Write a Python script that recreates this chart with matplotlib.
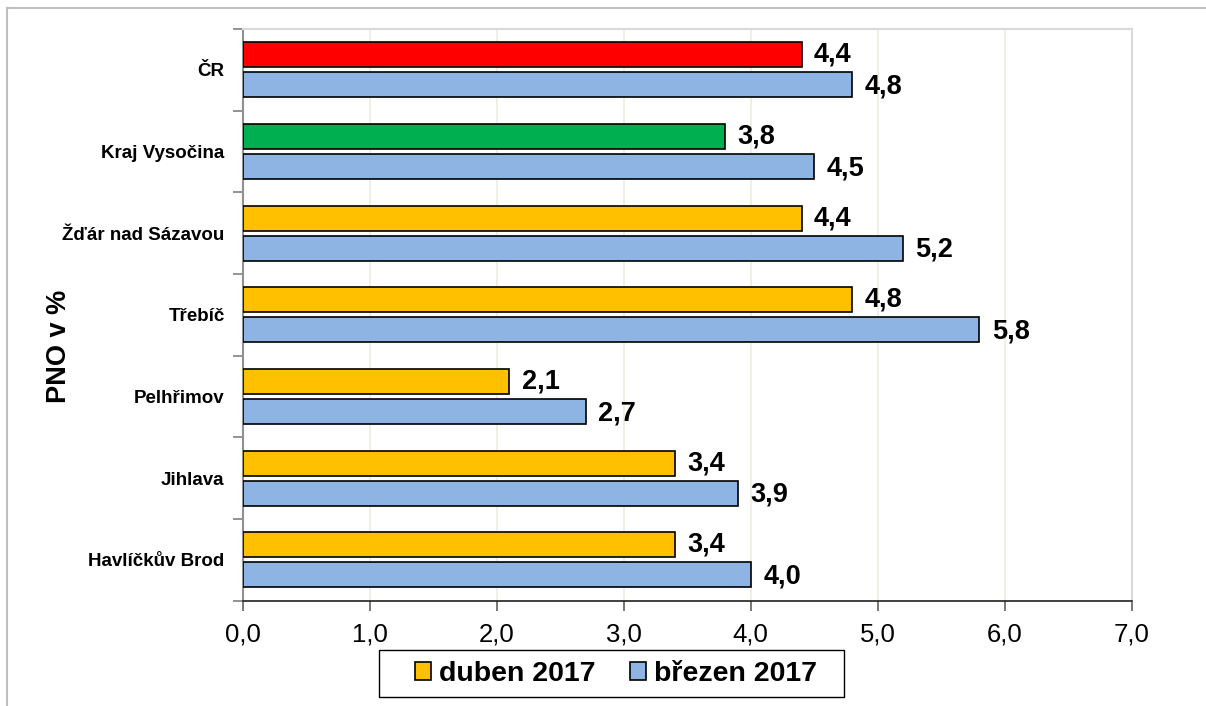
import matplotlib
matplotlib.use("Agg")
import matplotlib.pyplot as plt
from matplotlib.patches import Patch, Rectangle
from matplotlib.lines import Line2D

plt.rcParams['font.family'] = ['Liberation Sans', 'DejaVu Sans']

categories = ["ČR", "Kraj Vysočina", "Žďár nad Sázavou", "Třebíč",
              "Pelhřimov", "Jihlava", "Havlíčkův Brod"]
duben_2017 = [4.4, 3.8, 4.4, 4.8, 2.1, 3.4, 3.4]
brezen_2017 = [4.8, 4.5, 5.2, 5.8, 2.7, 3.9, 4.0]
series_names = ["duben 2017", "březen 2017"]
x_ticks = [0, 1, 2, 3, 4, 5, 6, 7]

col_orange = "#FFC000"
col_blue = "#8EB4E3"
col_red = "#FF0000"
col_green = "#00B050"
duben_colors = [col_red, col_green] + [col_orange] * (len(categories) - 2)


def fmt(v):
    return f"{v:.1f}".replace(".", ",")


W, H = 1206, 706
fig = plt.figure(figsize=(W / 100, H / 100), dpi=100)
ax = fig.add_axes([242.7 / W, 1 - 600.7 / H, (1131.7 - 242.7) / W, (600.7 - 29) / H])

ypos = list(range(len(categories)))
h = 0.306
off = 0.183
ax.barh([y - off for y in ypos], duben_2017, height=h, color=duben_colors,
        edgecolor="black", linewidth=1.2, zorder=3)
ax.barh([y + off for y in ypos], brezen_2017, height=h, color=col_blue,
        edgecolor="black", linewidth=1.2, zorder=3)

for y, v in zip(ypos, duben_2017):
    ax.annotate(fmt(v), (v, y - off), xytext=(9, 0), textcoords="offset points",
                va="center", ha="left", fontsize=19.5, fontweight="bold", zorder=4)
for y, v in zip(ypos, brezen_2017):
    ax.annotate(fmt(v), (v, y + off + 0.02), xytext=(9, 0), textcoords="offset points",
                va="center", ha="left", fontsize=19.5, fontweight="bold", zorder=4)

ax.set_xlim(0, 7)
ax.set_ylim(len(categories) - 0.5, -0.5)
ax.set_xticks(x_ticks)
ax.set_xticklabels([fmt(t) for t in x_ticks], fontsize=18.5)
ax.set_yticks(ypos)
ax.set_yticklabels(categories, fontsize=13.5, fontweight="bold")
ax.set_yticks([y - 0.5 for y in ypos] + [len(categories) - 0.5], minor=True)
ax.tick_params(axis="y", which="major", length=0, pad=13)
ax.tick_params(axis="y", which="minor", length=7, width=1.2, color="#808080", direction="out")
ax.tick_params(axis="x", which="major", length=7, width=1.2, color="#606060", pad=9)
ax.grid(axis="x", color="#ecece0", linewidth=1.2, zorder=0)
ax.set_axisbelow(True)

for s in ["top", "right"]:
    ax.spines[s].set_color("#d9d9d9")
    ax.spines[s].set_linewidth(1.5)
ax.spines["left"].set_color("#909090")
ax.spines["left"].set_linewidth(1.5)
ax.spines["bottom"].set_color("#202020")
ax.spines["bottom"].set_linewidth(1.2)

fig.text(59 / W, 1 - 346 / H, "PNO v %", rotation=90, fontsize=19.5,
         fontweight="bold", ha="center", va="center")

# legend box
fig.add_artist(Rectangle((379 / W, 1 - 697 / H), (844 - 379) / W, (697 - 650) / H,
                         transform=fig.transFigure, facecolor="white", edgecolor="black",
                         linewidth=1.0, zorder=5))
handles = [Patch(facecolor=col_orange, edgecolor="black", linewidth=1.2),
           Patch(facecolor=col_blue, edgecolor="black", linewidth=1.2)]
leg = fig.legend(handles, series_names, loc="center", bbox_to_anchor=(616 / W, 1 - 674 / H),
                 ncol=2, frameon=False,
                 prop={"weight": "bold", "size": 20.5}, handlelength=0.56, handleheight=0.56,
                 handletextpad=0.28, columnspacing=1.2, borderpad=0.2)
leg.set_zorder(6)

# outer chart border
fig.add_artist(Line2D([7 / W, 7 / W], [0, 1 - 8 / H], transform=fig.transFigure,
                      color="#bfbfbf", linewidth=1.5))
fig.add_artist(Line2D([7 / W, 1], [1 - 8 / H, 1 - 8 / H], transform=fig.transFigure,
                      color="#bfbfbf", linewidth=1.5))

fig.savefig("out.png", dpi=100)
